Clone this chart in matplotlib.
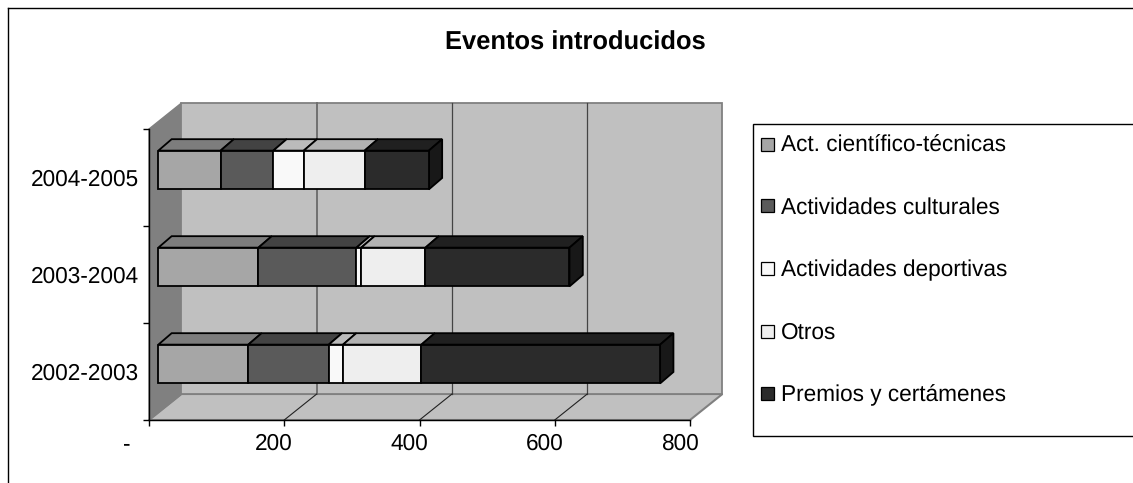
import matplotlib
matplotlib.use("Agg")
import matplotlib.pyplot as plt
from matplotlib.patches import Polygon, Rectangle
from matplotlib.transforms import offset_copy

plt.rcParams["font.family"] = ["Liberation Sans", "DejaVu Sans"]
plt.rcParams["text.hinting"] = "no_hinting"

years = ["2002-2003", "2003-2004", "2004-2005"]
series_names = ["Act. científico-técnicas", "Actividades culturales",
                "Actividades deportivas", "Otros", "Premios y certámenes"]
cientifico = [133, 148, 92]
culturales = [119, 145, 78]
deportivas = [21, 7, 45]
otros = [116, 95, 90]
premios = [353, 213, 95]
x_ticks = [0, 200, 400, 600, 800]
x_tick_labels = ["-", "200", "400", "600", "800"]

series = [cientifico, culturales, deportivas, otros, premios]
face_colors = ["#A6A6A6", "#5A5A5A", "#F9F9F9", "#EEEEEE", "#2B2B2B"]
top_colors = ["#7D7D7D", "#434343", "#BBBBBB", "#B2B2B2", "#202020"]
end_color = "#181818"

W, H = 1133, 483
fig = plt.figure(figsize=(W / 100, H / 100), dpi=100)

# axes = front plane of the 3d box, the wall and floor are sheared off it
ax = fig.add_axes([149 / W, 1 - 420 / H, 541 / W, 291 / H])
ax.set_xlim(0, 800)
ax.set_ylim(0, 3)
ax.patch.set_visible(False)

# shear in data units
wall_dx, wall_dy = 48, 0.268
gap_dx, gap_dy = 13.8, 0.077
bar_dx, bar_dy = 19.7, 0.118
bar_h = 0.4

# floor, side wall, back wall
ax.add_patch(Polygon([(0, 0), (800, 0), (800 + wall_dx, wall_dy), (wall_dx, wall_dy)],
                     fc="#C0C0C0", ec="#808080", lw=1.5, clip_on=False, zorder=1))
ax.add_patch(Polygon([(0, 0), (wall_dx, wall_dy), (wall_dx, 3 + wall_dy), (0, 3)],
                     fc="#808080", ec="#808080", lw=1, clip_on=False, zorder=1))
ax.add_patch(Rectangle((wall_dx, wall_dy), 800, 3, fc="#C0C0C0", ec="#808080", lw=1.3,
                       clip_on=False, zorder=1))

# grid on back wall and floor, the first wall line comes out thicker and lighter
for t in x_ticks[1:-1]:
    first = t == x_ticks[1]
    ax.plot([t + wall_dx, t + wall_dx], [wall_dy, 3 + wall_dy],
            color="#707070" if first else "#444444", lw=1.4 if first else 0.9,
            clip_on=False, zorder=1.5)
    ax.plot([t, t + wall_dx], [0, wall_dy], color="#222222", lw=0.8,
            clip_on=False, zorder=1.5)

# stacked bars, front face through barh, top and end as polygons
for i, year in enumerate(years):
    left = gap_dx
    y0 = i + 0.5 - bar_h / 2 + gap_dy
    for j, vals in enumerate(series):
        v = vals[i]
        ax.barh(y0 + bar_h / 2, v, height=bar_h, left=left, color=face_colors[j],
                edgecolor="black", lw=1.3, zorder=3, clip_on=False)
        y1 = y0 + bar_h
        ax.add_patch(Polygon([(left, y1), (left + v, y1), (left + v + bar_dx, y1 + bar_dy),
                              (left + bar_dx, y1 + bar_dy)],
                             fc=top_colors[j], ec="black", lw=1.3, clip_on=False, zorder=2.5))
        left += v
    ax.add_patch(Polygon([(left, y0), (left + bar_dx, y0 + bar_dy),
                          (left + bar_dx, y0 + bar_h + bar_dy), (left, y0 + bar_h)],
                         fc=end_color, ec="black", lw=1.3, clip_on=False, zorder=2.5))

for s in ["top", "right"]:
    ax.spines[s].set_visible(False)
for s in ["left", "bottom"]:
    ax.spines[s].set_color("black")
    ax.spines[s].set_linewidth(1)
    ax.spines[s].set_zorder(2)

ax.set_xticks(x_ticks)
ax.set_xticklabels(x_tick_labels, fontsize=16.3)
ax.set_yticks([0, 1, 2, 3])
ax.set_yticklabels([])
ax.set_yticks([0.5, 1.5, 2.5], minor=True)
ax.set_yticklabels(years, minor=True, fontsize=16.3)
ax.tick_params(axis="y", which="minor", length=0, pad=7)
ax.tick_params(axis="y", which="major", length=4, width=1)
ax.tick_params(axis="x", length=4, width=1, pad=5.5)

# excel puts the value labels left of their ticks
for t, lab in zip(x_ticks, ax.get_xticklabels()):
    shift = -16 if t == 0 else -7.5
    lab.set_transform(offset_copy(lab.get_transform(), fig=fig, x=shift, y=0, units="points"))

fig.text(575.5 / W, 1 - 43 / H, "Eventos introducidos", fontsize=18.4, fontweight="bold",
         ha="center", va="center")

# legend box drawn by hand on the figure, Excel style
fig.add_artist(Rectangle((753 / W, 1 - 436 / H), 400 / W, 312 / H, transform=fig.transFigure,
                         fc="white", ec="black", lw=1, clip_on=True))
legend_y = [144, 206, 268.7, 331, 393.7]
for name, c, ly in zip(series_names, face_colors, legend_y):
    fig.add_artist(Rectangle((760.5 / W, 1 - (ly + 6.5) / H), 13 / W, 13 / H,
                             transform=fig.transFigure, fc=c, ec="black", lw=0.9))
    fig.text(781 / W, 1 - (ly + 1.5) / H, name, fontsize=16.3, va="center", ha="left")

# outer frame, runs off the image
fig.add_artist(plt.Line2D([7.5 / W, 7.5 / W], [0, 1 - 7.5 / H], color="black", lw=1))
fig.add_artist(plt.Line2D([7.5 / W, 1], [1 - 7.5 / H, 1 - 7.5 / H], color="black", lw=1))

fig.savefig("out.png", dpi=100)
